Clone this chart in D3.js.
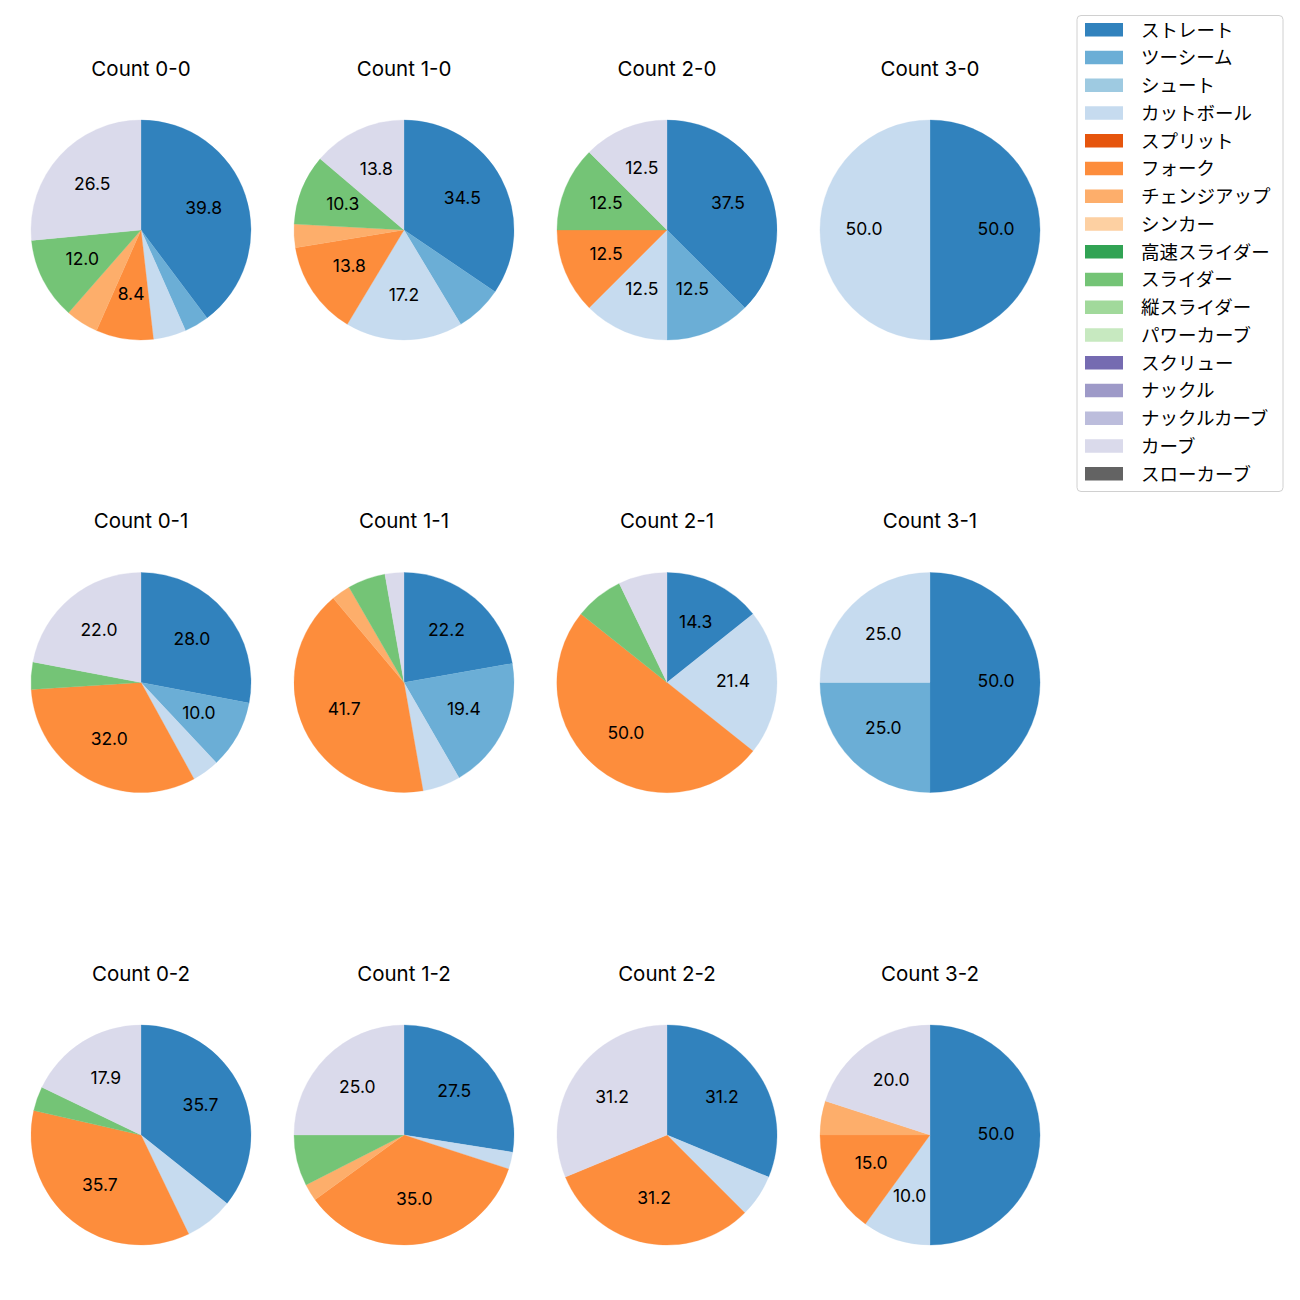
<!DOCTYPE html>
<html><head><meta charset="utf-8">
<script src="https://cdn.jsdelivr.net/npm/d3@7"></script>
<style>body{margin:0;background:#fff}</style>
</head><body>
<script>
const pitchTypes = ["ストレート","ツーシーム","シュート","カットボール","スプリット","フォーク","チェンジアップ","シンカー","高速スライダー","スライダー","縦スライダー","パワーカーブ","スクリュー","ナックル","ナックルカーブ","カーブ","スローカーブ"];
const pitchColors = ["#3182bd","#6baed6","#9ecae1","#c6dbef","#e6550d","#fd8d3c","#fdae6b","#fdd0a2","#31a354","#74c476","#a1d99b","#c7e9c0","#756bb1","#9e9ac8","#bcbddc","#dadaeb","#636363"];
const countTitles = ["Count 0-0","Count 1-0","Count 2-0","Count 3-0","Count 0-1","Count 1-1","Count 2-1","Count 3-1","Count 0-2","Count 1-2","Count 2-2","Count 3-2"];
// pitch counts per count situation, order follows pitchTypes
const c00 = [33,3,0,4,0,7,4,0,0,10,0,0,0,0,0,22,0];
const c10 = [10,2,0,5,0,4,1,0,0,3,0,0,0,0,0,4,0];
const c20 = [3,1,0,1,0,1,0,0,0,1,0,0,0,0,0,1,0];
const c30 = [1,0,0,1,0,0,0,0,0,0,0,0,0,0,0,0,0];
const c01 = [14,5,0,2,0,16,0,0,0,2,0,0,0,0,0,11,0];
const c11 = [8,7,0,2,0,15,1,0,0,2,0,0,0,0,0,1,0];
const c21 = [2,0,0,3,0,7,0,0,0,1,0,0,0,0,0,1,0];
const c31 = [2,1,0,1,0,0,0,0,0,0,0,0,0,0,0,0,0];
const c02 = [10,0,0,2,0,10,0,0,0,1,0,0,0,0,0,5,0];
const c12 = [11,0,0,1,0,14,1,0,0,3,0,0,0,0,0,10,0];
const c22 = [5,0,0,1,0,5,0,0,0,0,0,0,0,0,0,5,0];
const c32 = [10,0,0,2,0,3,1,0,0,0,0,0,0,0,0,4,0];
const pieData = [c00,c10,c20,c30,c01,c11,c21,c31,c02,c12,c22,c32];

// Python-style '%1.1f' (round half to even on exact halves)
function fmt1(x){
  const s=x*10, f=Math.floor(s), d=s-f;
  let r;
  if(Math.abs(d-0.5)<1e-9) r=(f%2===0)?f:f+1; else r=Math.round(s);
  return (r/10).toFixed(1);
}

const W=1300,H=1300;
const svg=d3.select("body").append("svg").attr("width",W).attr("height",H);
const font="Inter,'Noto Sans CJK JP','Noto Sans',sans-serif";
const jfont="'Noto Sans CJK JP',sans-serif";
const colX=d3.scalePoint().domain([0,1,2,3]).range([141,930]);
const rowY=d3.scalePoint().domain([0,1,2]).range([230,1135]);
const R=110;
const color=d3.scaleOrdinal().domain(pitchTypes).range(pitchColors);
const pie=d3.pie().sort(null).value(d=>d.v).startAngle(0).endAngle(2*Math.PI);
const arc=d3.arc().innerRadius(0).outerRadius(R);
const labelArc=d3.arc().innerRadius(R*0.6).outerRadius(R*0.6);

pieData.forEach((vals,i)=>{
  const cx=colX(i%4), cy=rowY(Math.floor(i/4));
  const total=d3.sum(vals);
  const items=pitchTypes.map((p,j)=>({p,v:vals[j]})).filter(d=>d.v>0);
  const g=svg.append("g").attr("transform",`translate(${cx},${cy})`);
  const arcs=pie(items);
  g.selectAll("path").data(arcs).join("path").attr("d",arc).attr("fill",d=>color(d.data.p))
    .attr("stroke",d=>color(d.data.p)).attr("stroke-width",0.3);
  g.selectAll("text.lab").data(arcs.filter(d=>d.data.v/total*100>=8)).join("text")
    .attr("class","lab")
    .attr("transform",d=>{const c=labelArc.centroid(d);return `translate(${c[0]},${c[1]-2})`;})
    .attr("text-anchor","middle").attr("dominant-baseline","central")
    .style("font-family",font).style("font-size","17.5px").attr("fill","#000")
    .text(d=>fmt1(d.data.v/total*100));
  svg.append("text").attr("x",cx).attr("y",cy-162).attr("text-anchor","middle")
    .attr("dominant-baseline","central")
    .style("font-family",font).style("font-size","20.5px").attr("fill","#000").text(countTitles[i]);
});

// legend
const lg=svg.append("g");
lg.append("rect").attr("x",1077).attr("y",15.5).attr("width",206).attr("height",476).attr("rx",4)
  .attr("fill","#fff").attr("stroke","#d0d0d0").attr("stroke-width",1);
const ly=d3.scaleLinear().domain([0,16]).range([29.5,473.5]);
pitchTypes.forEach((p,j)=>{
  lg.append("rect").attr("x",1085).attr("y",ly(j)-6.5).attr("width",38).attr("height",13.5).attr("fill",color(p));
  lg.append("text").attr("x",1141).attr("y",ly(j)-1).attr("dominant-baseline","central")
    .style("font-family",jfont).style("font-size","18.5px").attr("fill","#000").text(p);
});
</script>
</body></html>
